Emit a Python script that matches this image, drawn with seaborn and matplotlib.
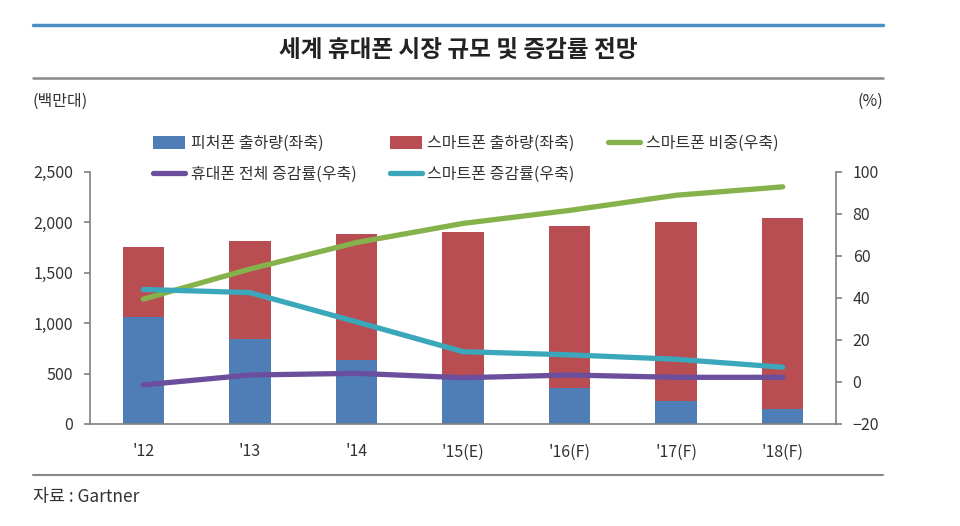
import matplotlib
matplotlib.use("Agg")
import matplotlib.pyplot as plt
import seaborn as sns
import pandas as pd
from matplotlib.lines import Line2D
from matplotlib.patches import Patch

years = ["'12", "'13", "'14", "'15(E)", "'16(F)", "'17(F)", "'18(F)"]
feature_ship = [1062, 838, 634, 468, 360, 225, 148]
smart_ship = [688, 972, 1247, 1436, 1600, 1778, 1898]
smart_share = [39.4, 53.7, 66.3, 75.4, 81.6, 88.8, 92.8]
total_growth = [-1.4, 3.3, 4.1, 2.0, 3.3, 2.2, 2.2]
smart_growth = [44.0, 42.5, 28.6, 14.4, 12.9, 10.8, 7.0]

left_ticks = [0, 500, 1000, 1500, 2000, 2500]
right_ticks = [-20, 0, 20, 40, 60, 80, 100]

labels = ["피처폰 출하량(좌축)", "스마트폰 출하량(좌축)", "스마트폰 비중(우축)",
          "휴대폰 전체 증감률(우축)", "스마트폰 증감률(우축)"]

c_blue = "#4F7DB6"
c_red = "#B84E52"
c_green = "#86B24C"
c_purple = "#6C4F9C"
c_cyan = "#3BA7BA"
c_axis = "#808080"
c_text = "#333333"

sns.set_style("white")
plt.rcParams["font.family"] = ["Noto Sans CJK KR", "DejaVu Sans"]

df = pd.DataFrame({
    "year": years,
    "feature": feature_ship,
    "smart": smart_ship,
    "share": smart_share,
    "tgrowth": total_growth,
    "sgrowth": smart_growth,
})
df["total"] = df["feature"] + df["smart"]

fig = plt.figure(figsize=(9.6, 5.26), dpi=100)
ax = fig.add_axes([90 / 960, 1 - 424 / 526, (836 - 90) / 960, (424 - 171.7) / 526])

sns.barplot(data=df, x="year", y="total", color=c_red, width=0.39, ax=ax,
            saturation=1, edgecolor="none", order=years)
sns.barplot(data=df, x="year", y="feature", color=c_blue, width=0.39, ax=ax,
            saturation=1, edgecolor="none", order=years)
ax.set_xlim(-0.5, 6.5)
ax.set_ylim(0, 2500)
ax.set_yticks(left_ticks)
ax.set_yticklabels([f"{v:,}" for v in left_ticks])
ax.set_xlabel("")
ax.set_ylabel("")

ax2 = ax.twinx()
xs = list(range(len(years)))
sns.lineplot(x=xs, y=df["share"], color=c_green, lw=3.8, ax=ax2)
sns.lineplot(x=xs, y=df["tgrowth"], color=c_purple, lw=3.8, ax=ax2)
sns.lineplot(x=xs, y=df["sgrowth"], color=c_cyan, lw=3.8, ax=ax2)
ax2.set_ylim(-20, 100)
ax2.set_yticks(right_ticks)
ax2.set_ylabel("")
ax2.set_xlim(-0.5, 6.5)

# x ticks: labels at centers, tick marks at boundaries
ax.set_xticks(range(len(years)))
ax.set_xticklabels(years)
ax.set_xticks([i + 0.5 for i in range(-1, len(years))], minor=True)
ax.tick_params(axis="x", which="major", length=0, pad=14, labelsize=11.5, colors=c_text)
ax.tick_params(axis="x", which="minor", length=5, width=1.2, color=c_axis, direction="out")
ax.tick_params(axis="y", length=4, width=1.2, color=c_axis, direction="out",
               labelsize=11.5, labelcolor=c_text, pad=8)
ax2.tick_params(axis="y", length=4, width=1.2, color=c_axis, direction="out",
                labelsize=11.5, labelcolor=c_text, pad=8)

for a in (ax, ax2):
    a.spines["top"].set_visible(False)
    for s in ("left", "right", "bottom"):
        a.spines[s].set_color(c_axis)
        a.spines[s].set_linewidth(1.2)
ax.spines["right"].set_visible(False)
ax2.spines["left"].set_visible(False)
ax2.spines["bottom"].set_visible(False)
ax.set_zorder(0)
ax2.set_zorder(1)

# legend
h_feat = Patch(facecolor=c_blue, edgecolor="none")
h_smart = Patch(facecolor=c_red, edgecolor="none")
h_share = Line2D([0], [0], color=c_green, lw=3.8)
h_tg = Line2D([0], [0], color=c_purple, lw=3.8)
h_sg = Line2D([0], [0], color=c_cyan, lw=3.8)
handles = [h_feat, h_tg, h_smart, h_sg, h_share]
labs = [labels[0], labels[3], labels[1], labels[4], labels[2]]
fig.legend(handles, labs, ncol=3, loc="upper left", bbox_to_anchor=(153 / 960, 1 - 135 / 526),
           frameon=False, fontsize=11.5, handlelength=2.0, handletextpad=0.35,
           columnspacing=2.1, labelspacing=0.85, handleheight=0.8,
           borderpad=0, borderaxespad=0, labelcolor=c_text)

# decorations
fig.add_artist(Line2D([33 / 960, 883 / 960], [1 - 25 / 526, 1 - 25 / 526],
                      transform=fig.transFigure, color="#4A8FC0", lw=2.5))
fig.add_artist(Line2D([33 / 960, 883 / 960], [1 - 78 / 526, 1 - 78 / 526],
                      transform=fig.transFigure, color="#888888", lw=1.8))
fig.add_artist(Line2D([33 / 960, 883 / 960], [1 - 475 / 526, 1 - 475 / 526],
                      transform=fig.transFigure, color="#888888", lw=1.5))
fig.text(458 / 960, 1 - 50 / 526, "세계 휴대폰 시장 규모 및 증감률 전망", ha="center", va="center",
         fontsize=17, fontweight="bold", color="#222222")
fig.text(33 / 960, 1 - 101 / 526, "(백만대)", ha="left", va="center", fontsize=11.5, color=c_text)
fig.text(883 / 960, 1 - 101 / 526, "(%)", ha="right", va="center", fontsize=11.5, color=c_text)
fig.text(33 / 960, 1 - 497 / 526, "자료 : Gartner", ha="left", va="center", fontsize=12.5, color=c_text)

fig.savefig("out.png", dpi=100, facecolor="white")
